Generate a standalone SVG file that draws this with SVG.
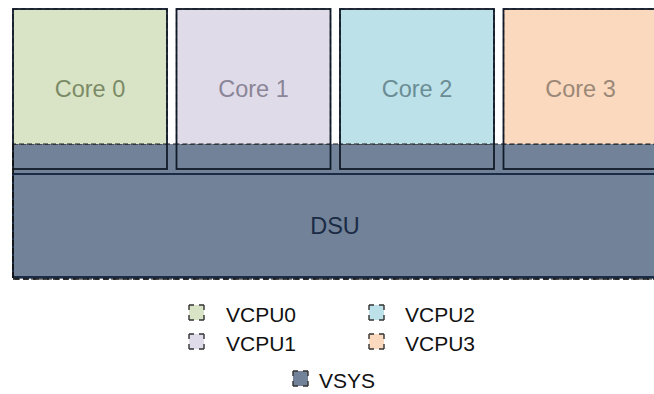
<svg xmlns="http://www.w3.org/2000/svg" width="654" height="394" viewBox="0 0 654 394">
<style>
.cf{stroke:#1a1a1a;stroke-width:1.2;stroke-dasharray:5 3}
.co{fill:none;stroke:#111a28;stroke-width:1.8}
.vs{fill:#728399}
.lbl{font-family:"Liberation Sans",Arial,sans-serif;font-size:23.5px;text-anchor:middle}
.leg{font-family:"Liberation Sans",Arial,sans-serif;font-size:21px;fill:#111}
.sq{stroke:#333;stroke-width:1.4;stroke-dasharray:5 5 5 0}
</style>
<rect width="654" height="394" fill="#fff"/>
<g id="vsys-area">
<rect class="vs cf" x="13" y="144" width="660" height="135"/>
</g>
<g id="core0">
<rect class="cf" x="13" y="9" width="154" height="135" fill="#d9e4c6"/>
<rect class="co" x="13" y="9" width="154" height="160"/>
<text class="lbl" x="90" y="97" fill="#7b8b67">Core 0</text>
</g>
<g id="core1">
<rect class="cf" x="176.5" y="9" width="154" height="135" fill="#e0dbe9"/>
<rect class="co" x="176.5" y="9" width="154" height="160"/>
<text class="lbl" x="253.5" y="97" fill="#8a8597">Core 1</text>
</g>
<g id="core2">
<rect class="cf" x="340" y="9" width="154" height="135" fill="#bde1e8"/>
<rect class="co" x="340" y="9" width="154" height="160"/>
<text class="lbl" x="417" y="97" fill="#6b8d95">Core 2</text>
</g>
<g id="core3">
<rect class="cf" x="503.5" y="9" width="154" height="135" fill="#fad9bf"/>
<rect class="co" x="503.5" y="9" width="154" height="160"/>
<text class="lbl" x="580.5" y="97" fill="#9b8877">Core 3</text>
</g>
<g id="dsu">
<rect x="13" y="174" width="660" height="103" fill="#728399" stroke="#1b2b45" stroke-width="2"/>
<line x1="13" y1="144" x2="13" y2="279" stroke="#111" stroke-width="1.6" stroke-dasharray="6 2"/>
<line x1="13" y1="279" x2="660" y2="279" stroke="#111" stroke-width="1.4" stroke-dasharray="6 4"/>
<text class="lbl" x="335" y="234" fill="#1b2b45">DSU</text>
</g>
<g id="connectors"></g>
<g id="legend">
<rect class="sq" x="189" y="305" width="15" height="15" fill="#d9e4c6"/>
<text class="leg" x="226" y="322">VCPU0</text>
<rect class="sq" x="189" y="334" width="15" height="15" fill="#e0dbe9"/>
<text class="leg" x="226" y="351">VCPU1</text>
<rect class="sq" x="369" y="305" width="15" height="15" fill="#bde1e8"/>
<text class="leg" x="405" y="322">VCPU2</text>
<rect class="sq" x="369" y="334" width="15" height="15" fill="#fad9bf"/>
<text class="leg" x="405" y="351">VCPU3</text>
<rect class="sq" x="293" y="371" width="15" height="15" fill="#728399"/>
<text class="leg" x="319" y="388">VSYS</text>
</g>
</svg>
